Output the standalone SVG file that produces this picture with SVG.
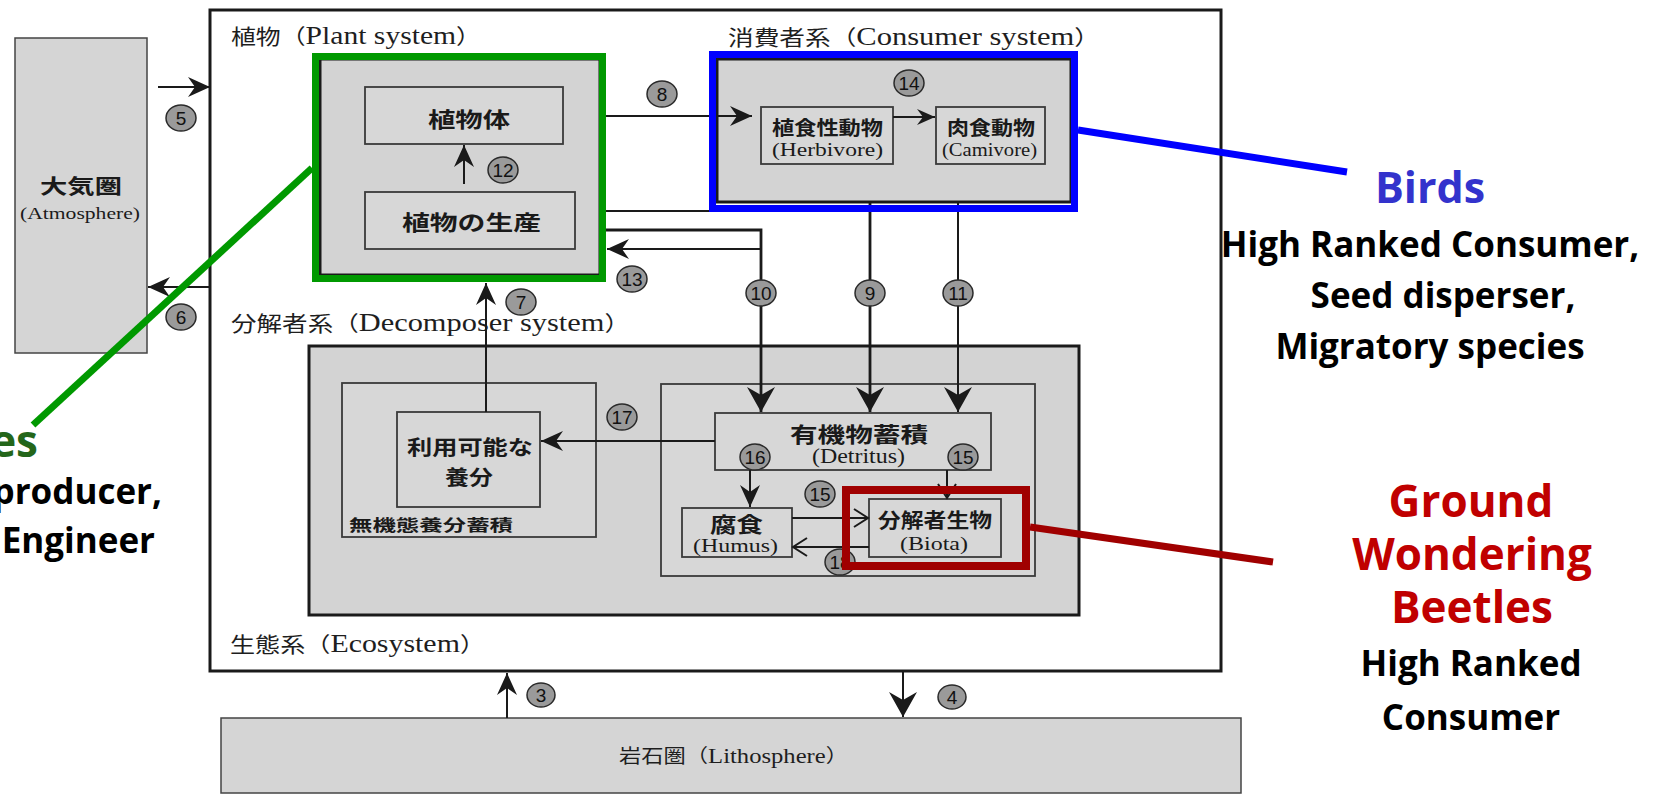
<svg xmlns="http://www.w3.org/2000/svg" width="1657" height="795" viewBox="0 0 1657 795">
<style>
.gbox{fill:#d5d5d5;stroke:#444;stroke-width:1.5}
.gboxd{fill:#d3d3d3;stroke:#1a1a1a;stroke-width:3}
.ibox{fill:#d7d7d7;stroke:#3a3a3a;stroke-width:1.8}
.line{fill:none;stroke:#1a1a1a;stroke-width:2}
.lineb{fill:none;stroke:#1a1a1a;stroke-width:2.8}
.hdr{font-family:"Liberation Serif","Noto Sans CJK JP",serif;font-size:25px;fill:#1e1e1e}
.hdr .j{font-size:21px}
.cjk{font-family:"Noto Sans CJK JP",sans-serif;font-weight:bold;fill:#1a1a1a}
.lat{font-family:"Liberation Serif",serif;fill:#1a1a1a}
.num ellipse{fill:#9a9a9a;stroke:#2a2a2a;stroke-width:1.5}
.num text{font-family:"Liberation Sans Narrow","Liberation Sans",sans-serif;font-size:19px;fill:#111;text-anchor:middle}
.ann{font-family:"Open Sans","Liberation Sans",sans-serif;font-weight:bold;text-anchor:middle}
.blk{fill:#000;font-size:35px}
</style>
<defs>
<marker id="arr" markerUnits="userSpaceOnUse" viewBox="-26 -14 28 28" markerWidth="28" markerHeight="28" refX="0" refY="0" orient="auto" overflow="visible">
<path d="M0,0 L-22,-10 L-15,0 L-22,10 Z" fill="#1a1a1a"/>
</marker>
<marker id="arrS" markerUnits="userSpaceOnUse" viewBox="-26 -14 28 28" markerWidth="28" markerHeight="28" refX="0" refY="0" orient="auto" overflow="visible">
<path d="M0,0 L-18,-8 L-12,0 L-18,8 Z" fill="#1a1a1a"/>
</marker>
<marker id="arrB" markerUnits="userSpaceOnUse" viewBox="-30 -16 32 32" markerWidth="32" markerHeight="32" refX="0" refY="0" orient="auto" overflow="visible">
<path d="M0,0 L-25,-14 L-17,0 L-25,14 Z" fill="#1a1a1a"/>
</marker>
<marker id="chev" markerUnits="userSpaceOnUse" viewBox="-20 -12 22 24" markerWidth="22" markerHeight="24" refX="0" refY="0" orient="auto" overflow="visible">
<path d="M-14,-9 L0,0 L-14,9" fill="none" stroke="#1a1a1a" stroke-width="2"/>
</marker>
</defs>
<rect x="0" y="0" width="1657" height="795" fill="#ffffff"/>

<g id="ecosystem">
<rect x="210" y="10" width="1011" height="661" fill="#ffffff" stroke="#1a1a1a" stroke-width="3"/>
<text class="hdr" x="230" y="652" textLength="255" lengthAdjust="spacingAndGlyphs"><tspan class="j">生態系（</tspan>Ecosystem<tspan class="j">）</tspan></text>
</g>

<g id="atmosphere">
<rect class="gbox" x="15" y="38" width="132" height="315"/>
<text class="cjk" x="40" y="194" font-size="20" textLength="82" lengthAdjust="spacingAndGlyphs">大気圏</text>
<text class="lat" x="20" y="219" font-size="17" textLength="120" lengthAdjust="spacingAndGlyphs">(Atmosphere)</text>
</g>

<g id="lithosphere">
<rect class="gbox" x="221" y="718" width="1020" height="75"/>
<text class="hdr" x="619" y="763" textLength="229" lengthAdjust="spacingAndGlyphs" style="font-size:21px"><tspan style="font-size:19px">岩石圏（</tspan>Lithosphere<tspan style="font-size:19px">）</tspan></text>
</g>

<g id="plant-system">
<text class="hdr" x="231" y="44" textLength="250" lengthAdjust="spacingAndGlyphs"><tspan class="j">植物（</tspan>Plant system<tspan class="j">）</tspan></text>
<rect class="gboxd" x="320" y="59" width="280" height="216"/>
<rect class="ibox" x="365" y="87" width="198" height="57"/>
<text class="cjk" x="428" y="127" font-size="21" textLength="82" lengthAdjust="spacingAndGlyphs">植物体</text>
<rect class="ibox" x="365" y="192" width="210" height="57"/>
<text class="cjk" x="402" y="230" font-size="21" textLength="139" lengthAdjust="spacingAndGlyphs">植物の生産</text>
</g>

<g id="consumer-system">
<text class="hdr" x="728" y="45" textLength="372" lengthAdjust="spacingAndGlyphs"><tspan class="j">消費者系（</tspan>Consumer system<tspan class="j">）</tspan></text>
<rect class="gboxd" x="717" y="59" width="354" height="143"/>
<rect class="ibox" x="761" y="107" width="132" height="57"/>
<text class="cjk" x="772" y="135" font-size="19" textLength="111" lengthAdjust="spacingAndGlyphs">植食性動物</text>
<text class="lat" x="772" y="156" font-size="19" textLength="111" lengthAdjust="spacingAndGlyphs">(Herbivore)</text>
<rect class="ibox" x="936" y="107" width="109" height="57"/>
<text class="cjk" x="947" y="135" font-size="19" textLength="88" lengthAdjust="spacingAndGlyphs">肉食動物</text>
<text class="lat" x="942" y="156" font-size="19" textLength="95" lengthAdjust="spacingAndGlyphs">(Camivore)</text>
</g>

<g id="decomposer-system">
<text class="hdr" x="231" y="331" textLength="399" lengthAdjust="spacingAndGlyphs"><tspan class="j">分解者系（</tspan>Decomposer system<tspan class="j">）</tspan></text>
<rect class="gboxd" x="309" y="346" width="770" height="269"/>
<rect class="ibox" x="342" y="383" width="254" height="154"/>
<text class="cjk" x="349" y="531" font-size="16" textLength="164" lengthAdjust="spacingAndGlyphs">無機態養分蓄積</text>
<rect class="ibox" x="397" y="412" width="143" height="95"/>
<text class="cjk" x="407" y="455" font-size="20" textLength="126" lengthAdjust="spacingAndGlyphs">利用可能な</text>
<text class="cjk" x="445" y="485" font-size="20" textLength="48" lengthAdjust="spacingAndGlyphs">養分</text>
<rect class="ibox" x="661" y="384" width="374" height="192"/>
<rect class="ibox" x="715" y="413" width="276" height="57"/>
<text class="cjk" x="790" y="442" font-size="21" textLength="138" lengthAdjust="spacingAndGlyphs">有機物蓄積</text>
<text class="lat" x="812" y="463" font-size="20" textLength="93" lengthAdjust="spacingAndGlyphs">(Detritus)</text>
<rect class="ibox" x="682" y="508" width="110" height="49"/>
<text class="cjk" x="710" y="532" font-size="21" textLength="53" lengthAdjust="spacingAndGlyphs">腐食</text>
<text class="lat" x="693" y="552" font-size="18" textLength="85" lengthAdjust="spacingAndGlyphs">(Humus)</text>
<rect class="ibox" x="869" y="499" width="132" height="58"/>
<text class="cjk" x="878" y="528" font-size="20" textLength="114" lengthAdjust="spacingAndGlyphs">分解者生物</text>
<text class="lat" x="900" y="550" font-size="18" textLength="68" lengthAdjust="spacingAndGlyphs">(Biota)</text>
</g>

<g id="connectors">
<path class="line" d="M158,87 H210" marker-end="url(#arr)"/>
<path class="line" d="M211,287 H148" marker-end="url(#arr)"/>
<path class="line" d="M464,184 V145" marker-end="url(#arr)"/>
<path class="line" d="M600,116 H752" marker-end="url(#arr)"/>
<path class="line" d="M893,117 H935" marker-end="url(#arrS)"/>
<path class="line" d="M600,211 H870"/>
<path class="lineb" d="M870,202 V412" marker-end="url(#arrB)"/>
<path class="lineb" d="M600,230 H761 V412" marker-end="url(#arrB)"/>
<path class="line" d="M761,249 H607" marker-end="url(#arr)"/>
<path class="line" d="M958,202 V412" marker-end="url(#arrB)"/>
<path class="line" d="M486,412 V283" marker-end="url(#arr)"/>
<path class="line" d="M715,441 H541" marker-end="url(#arr)"/>
<path class="line" d="M750,470 V507" marker-end="url(#arr)"/>
<path class="line" d="M947,470 V498" marker-end="url(#chev)"/>
<path class="line" d="M792,518 H868" marker-end="url(#chev)"/>
<path class="line" d="M869,547 H793" marker-end="url(#chev)"/>
<path class="line" d="M507,718 V673" marker-end="url(#arr)"/>
<path class="line" d="M903,671 V717" marker-end="url(#arrB)"/>
</g>

<g id="flow-numbers" class="num">
<g><ellipse cx="181" cy="118" rx="15" ry="13"/><text x="181" y="125">5</text></g>
<g><ellipse cx="181" cy="317" rx="15" ry="13"/><text x="181" y="324">6</text></g>
<g><ellipse cx="503" cy="170" rx="15" ry="13"/><text x="503" y="177">12</text></g>
<g><ellipse cx="521" cy="302" rx="15" ry="13"/><text x="521" y="309">7</text></g>
<g><ellipse cx="662" cy="94" rx="15" ry="13"/><text x="662" y="101">8</text></g>
<g><ellipse cx="632" cy="279" rx="15" ry="13"/><text x="632" y="286">13</text></g>
<g><ellipse cx="909" cy="83" rx="15" ry="13"/><text x="909" y="90">14</text></g>
<g><ellipse cx="761" cy="293" rx="15" ry="13"/><text x="761" y="300">10</text></g>
<g><ellipse cx="870" cy="293" rx="15" ry="13"/><text x="870" y="300">9</text></g>
<g><ellipse cx="958" cy="293" rx="15" ry="13"/><text x="958" y="300">11</text></g>
<g><ellipse cx="622" cy="417" rx="15" ry="13"/><text x="622" y="424">17</text></g>
<g><ellipse cx="755" cy="457" rx="15" ry="13"/><text x="755" y="464">16</text></g>
<g><ellipse cx="963" cy="457" rx="15" ry="13"/><text x="963" y="464">15</text></g>
<g><ellipse cx="820" cy="494" rx="15" ry="13"/><text x="820" y="501">15</text></g>
<g><ellipse cx="840" cy="562" rx="15" ry="13"/><text x="840" y="569">18</text></g>
<g><ellipse cx="541" cy="695" rx="14" ry="12"/><text x="541" y="702">3</text></g>
<g><ellipse cx="952" cy="697" rx="14" ry="12"/><text x="952" y="704">4</text></g>
</g>

<g id="annotation-plants">
<rect x="315.5" y="56.5" width="287" height="222" fill="none" stroke="#009900" stroke-width="7"/>
<line x1="312" y1="168" x2="33" y2="425" stroke="#009900" stroke-width="7"/>
<text class="ann" x="38" y="457" font-size="44" fill="#24661a" style="text-anchor:end">es</text>
<text class="ann blk" x="162" y="504" style="text-anchor:end">producer,</text>
<text class="ann blk" x="155" y="553" style="text-anchor:end">Engineer</text>
</g>

<g id="annotation-birds">
<rect x="712.5" y="54.5" width="362" height="154" fill="none" stroke="#0000ff" stroke-width="7"/>
<line x1="1078" y1="130" x2="1347" y2="172" stroke="#0000ff" stroke-width="7"/>
<text class="ann" x="1430" y="203" font-size="43" fill="#3333cc">Birds</text>
<text class="ann blk" x="1430" y="257">High Ranked Consumer,</text>
<text class="ann blk" x="1443" y="308">Seed disperser,</text>
<text class="ann blk" x="1430" y="359">Migratory species</text>
</g>

<g id="annotation-beetles">
<rect x="846" y="490" width="180" height="76" fill="none" stroke="#a00000" stroke-width="8"/>
<line x1="1030" y1="527" x2="1273" y2="562" stroke="#a00000" stroke-width="7"/>
<text class="ann" x="1471" y="517" font-size="44" fill="#c00000">Ground</text>
<text class="ann" x="1472" y="570" font-size="44" fill="#c00000">Wondering</text>
<text class="ann" x="1472" y="623" font-size="44" fill="#c00000">Beetles</text>
<text class="ann blk" x="1471" y="676">High Ranked</text>
<text class="ann blk" x="1471" y="730">Consumer</text>
</g>
</svg>
